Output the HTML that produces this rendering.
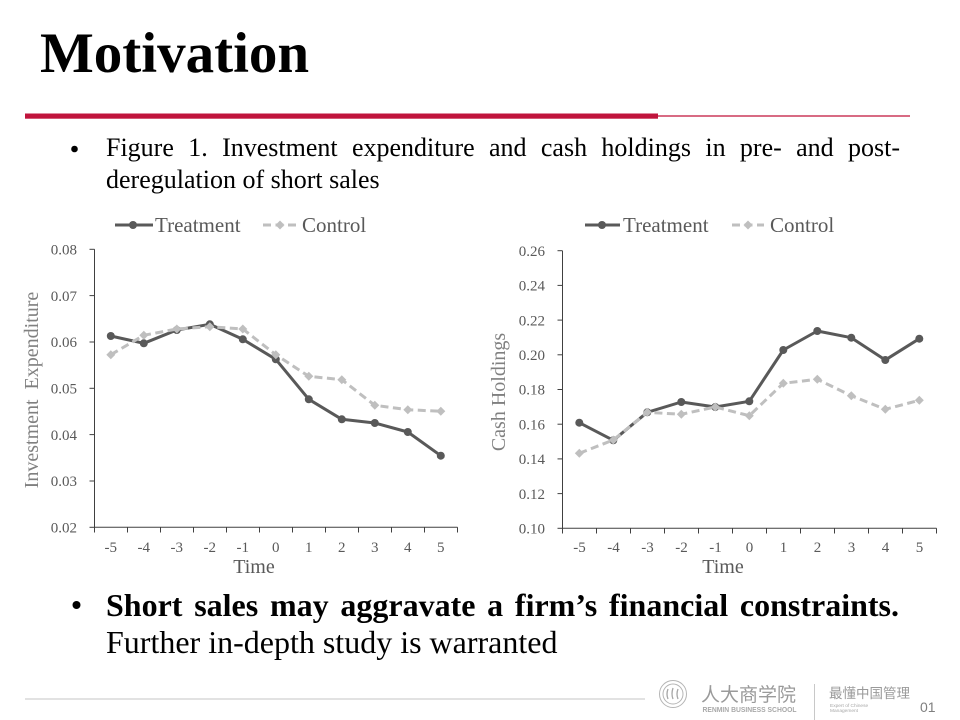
<!DOCTYPE html>
<html>
<head>
<meta charset="utf-8">
<style>
  html,body{margin:0;padding:0;background:#fff;}
  #page{position:relative;width:960px;height:720px;overflow:hidden;background:#fff;font-family:"Liberation Serif","Noto Serif CJK SC",serif;color:#000;}
  .t{position:absolute;white-space:nowrap;}
  .just{position:absolute;white-space:normal;text-align:justify;text-align-last:justify;}
  svg{position:absolute;left:0;top:0;}
</style>
</head>
<body>
<div id="page">
  <svg width="960" height="720" viewBox="0 0 960 720" xmlns="http://www.w3.org/2000/svg">
    <!-- header rule -->
    <rect x="25" y="113.5" width="633" height="5.2" fill="#c0143c"/>
    <line x1="658" y1="116" x2="910" y2="116" stroke="#cc3a5a" stroke-width="1.5"/>
    <!-- bullets -->
    <circle cx="74.5" cy="149" r="3.3" fill="#000"/>
    <circle cx="76.5" cy="605" r="4" fill="#000"/>

    <!-- ============ LEFT CHART ============ -->
    <g font-family="Liberation Serif, serif">
      <line x1="94.5" y1="249.3" x2="94.5" y2="527.3" stroke="#404040" stroke-width="1"/>
      <line x1="94.5" y1="527.3" x2="457.5" y2="527.3" stroke="#404040" stroke-width="1"/>
      <g stroke="#404040" stroke-width="1">
        <line x1="89.5" y1="249.3" x2="94.5" y2="249.3"/>
        <line x1="89.5" y1="295.6" x2="94.5" y2="295.6"/>
        <line x1="89.5" y1="342" x2="94.5" y2="342"/>
        <line x1="89.5" y1="388.3" x2="94.5" y2="388.3"/>
        <line x1="89.5" y1="434.6" x2="94.5" y2="434.6"/>
        <line x1="89.5" y1="481" x2="94.5" y2="481"/>
        <line x1="89.5" y1="527.3" x2="94.5" y2="527.3"/>
        <line x1="94.5" y1="527.3" x2="94.5" y2="532.5"/>
        <line x1="127.5" y1="527.3" x2="127.5" y2="532.5"/>
        <line x1="160.5" y1="527.3" x2="160.5" y2="532.5"/>
        <line x1="193.5" y1="527.3" x2="193.5" y2="532.5"/>
        <line x1="226.5" y1="527.3" x2="226.5" y2="532.5"/>
        <line x1="259.5" y1="527.3" x2="259.5" y2="532.5"/>
        <line x1="292.5" y1="527.3" x2="292.5" y2="532.5"/>
        <line x1="325.5" y1="527.3" x2="325.5" y2="532.5"/>
        <line x1="358.5" y1="527.3" x2="358.5" y2="532.5"/>
        <line x1="391.5" y1="527.3" x2="391.5" y2="532.5"/>
        <line x1="424.5" y1="527.3" x2="424.5" y2="532.5"/>
        <line x1="457.5" y1="527.3" x2="457.5" y2="532.5"/>
      </g>
      <g font-size="15" fill="#595959" text-anchor="end">
        <text x="77" y="254.5">0.08</text>
        <text x="77" y="300.8">0.07</text>
        <text x="77" y="347.2">0.06</text>
        <text x="77" y="393.5">0.05</text>
        <text x="77" y="439.8">0.04</text>
        <text x="77" y="486.2">0.03</text>
        <text x="77" y="532.5">0.02</text>
      </g>
      <g font-size="15" fill="#595959" text-anchor="middle">
        <text x="110.8" y="552">-5</text>
        <text x="143.8" y="552">-4</text>
        <text x="176.8" y="552">-3</text>
        <text x="209.8" y="552">-2</text>
        <text x="242.8" y="552">-1</text>
        <text x="275.8" y="552">0</text>
        <text x="308.8" y="552">1</text>
        <text x="341.8" y="552">2</text>
        <text x="374.8" y="552">3</text>
        <text x="407.8" y="552">4</text>
        <text x="440.8" y="552">5</text>
      </g>
      <text x="254" y="573" font-size="20" fill="#595959" text-anchor="middle">Time</text>
      <text transform="translate(38,390) rotate(-90)" font-size="20" fill="#808080" text-anchor="middle" xml:space="preserve">Investment  Expenditure</text>
      <!-- legend -->
      <line x1="115" y1="225" x2="153" y2="225" stroke="#595959" stroke-width="3"/>
      <circle cx="133" cy="225" r="4" fill="#595959"/>
      <text x="155" y="232" font-size="21" fill="#595959">Treatment</text>
      <line x1="263" y1="225" x2="296" y2="225" stroke="#bfbfbf" stroke-width="3" stroke-dasharray="8 4.5"/>
      <path d="M280 220.5 L284.5 225 L280 229.5 L275.5 225 Z" fill="#bfbfbf"/>
      <text x="302" y="232" font-size="21" fill="#595959">Control</text>
      <polyline fill="none" stroke="#595959" stroke-width="3" stroke-linejoin="round"
        points="110.8,336 143.8,343.3 176.8,330 209.8,324.3 242.8,339.3 275.8,359.3 308.8,399.3 341.8,419.3 374.8,423 407.8,432 440.8,455.7"/>
      <g fill="#595959">
        <circle cx="110.8" cy="336" r="4"/>
        <circle cx="143.8" cy="343.3" r="4"/>
        <circle cx="176.8" cy="330" r="4"/>
        <circle cx="209.8" cy="324.3" r="4"/>
        <circle cx="242.8" cy="339.3" r="4"/>
        <circle cx="275.8" cy="359.3" r="4"/>
        <circle cx="308.8" cy="399.3" r="4"/>
        <circle cx="341.8" cy="419.3" r="4"/>
        <circle cx="374.8" cy="423" r="4"/>
        <circle cx="407.8" cy="432" r="4"/>
        <circle cx="440.8" cy="455.7" r="4"/>
      </g>
      <polyline fill="none" stroke="#bfbfbf" stroke-width="3" stroke-dasharray="8 4.5" stroke-linejoin="round"
        points="110.8,354.7 143.8,335.3 176.8,329 209.8,326.7 242.8,329 275.8,354.7 308.8,376.3 341.8,379.7 374.8,405.3 407.8,409.7 440.8,411.3"/>
      <g fill="#bfbfbf">
        <path d="M110.8 350.2 l4.5 4.5 l-4.5 4.5 l-4.5 -4.5 Z"/>
        <path d="M143.8 330.8 l4.5 4.5 l-4.5 4.5 l-4.5 -4.5 Z"/>
        <path d="M176.8 324.5 l4.5 4.5 l-4.5 4.5 l-4.5 -4.5 Z"/>
        <path d="M209.8 322.2 l4.5 4.5 l-4.5 4.5 l-4.5 -4.5 Z"/>
        <path d="M242.8 324.5 l4.5 4.5 l-4.5 4.5 l-4.5 -4.5 Z"/>
        <path d="M275.8 350.2 l4.5 4.5 l-4.5 4.5 l-4.5 -4.5 Z"/>
        <path d="M308.8 371.8 l4.5 4.5 l-4.5 4.5 l-4.5 -4.5 Z"/>
        <path d="M341.8 375.2 l4.5 4.5 l-4.5 4.5 l-4.5 -4.5 Z"/>
        <path d="M374.8 400.8 l4.5 4.5 l-4.5 4.5 l-4.5 -4.5 Z"/>
        <path d="M407.8 405.2 l4.5 4.5 l-4.5 4.5 l-4.5 -4.5 Z"/>
        <path d="M440.8 406.8 l4.5 4.5 l-4.5 4.5 l-4.5 -4.5 Z"/>
      </g>
    </g>

    <!-- ============ RIGHT CHART ============ -->
    <g font-family="Liberation Serif, serif">
      <line x1="562.5" y1="250.7" x2="562.5" y2="528.3" stroke="#404040" stroke-width="1"/>
      <line x1="562.5" y1="528.3" x2="936.5" y2="528.3" stroke="#404040" stroke-width="1"/>
      <g stroke="#404040" stroke-width="1">
        <line x1="557.5" y1="250.7" x2="562.5" y2="250.7"/>
        <line x1="557.5" y1="285.4" x2="562.5" y2="285.4"/>
        <line x1="557.5" y1="320.1" x2="562.5" y2="320.1"/>
        <line x1="557.5" y1="354.8" x2="562.5" y2="354.8"/>
        <line x1="557.5" y1="389.5" x2="562.5" y2="389.5"/>
        <line x1="557.5" y1="424.2" x2="562.5" y2="424.2"/>
        <line x1="557.5" y1="458.9" x2="562.5" y2="458.9"/>
        <line x1="557.5" y1="493.6" x2="562.5" y2="493.6"/>
        <line x1="557.5" y1="528.3" x2="562.5" y2="528.3"/>
        <line x1="562.5" y1="528.3" x2="562.5" y2="533.5"/>
        <line x1="596.5" y1="528.3" x2="596.5" y2="533.5"/>
        <line x1="630.5" y1="528.3" x2="630.5" y2="533.5"/>
        <line x1="664.5" y1="528.3" x2="664.5" y2="533.5"/>
        <line x1="698.5" y1="528.3" x2="698.5" y2="533.5"/>
        <line x1="732.5" y1="528.3" x2="732.5" y2="533.5"/>
        <line x1="766.5" y1="528.3" x2="766.5" y2="533.5"/>
        <line x1="800.5" y1="528.3" x2="800.5" y2="533.5"/>
        <line x1="834.5" y1="528.3" x2="834.5" y2="533.5"/>
        <line x1="868.5" y1="528.3" x2="868.5" y2="533.5"/>
        <line x1="902.5" y1="528.3" x2="902.5" y2="533.5"/>
        <line x1="936.5" y1="528.3" x2="936.5" y2="533.5"/>
      </g>
      <g font-size="15" fill="#595959" text-anchor="end">
        <text x="545" y="255.9">0.26</text>
        <text x="545" y="290.6">0.24</text>
        <text x="545" y="325.3">0.22</text>
        <text x="545" y="360">0.20</text>
        <text x="545" y="394.7">0.18</text>
        <text x="545" y="429.4">0.16</text>
        <text x="545" y="464.1">0.14</text>
        <text x="545" y="498.8">0.12</text>
        <text x="545" y="533.5">0.10</text>
      </g>
      <g font-size="15" fill="#595959" text-anchor="middle">
        <text x="579.5" y="552">-5</text>
        <text x="613.5" y="552">-4</text>
        <text x="647.5" y="552">-3</text>
        <text x="681.5" y="552">-2</text>
        <text x="715.5" y="552">-1</text>
        <text x="749.5" y="552">0</text>
        <text x="783.5" y="552">1</text>
        <text x="817.5" y="552">2</text>
        <text x="851.5" y="552">3</text>
        <text x="885.5" y="552">4</text>
        <text x="919.5" y="552">5</text>
      </g>
      <text x="723" y="573" font-size="20" fill="#595959" text-anchor="middle">Time</text>
      <text transform="translate(505,392) rotate(-90)" font-size="20" fill="#808080" text-anchor="middle">Cash Holdings</text>
      <line x1="585" y1="225" x2="620" y2="225" stroke="#595959" stroke-width="3"/>
      <circle cx="602" cy="225" r="4" fill="#595959"/>
      <text x="623" y="232" font-size="21" fill="#595959">Treatment</text>
      <line x1="732" y1="225" x2="764" y2="225" stroke="#bfbfbf" stroke-width="3" stroke-dasharray="8 4.5"/>
      <path d="M748 220.5 L752.5 225 L748 229.5 L743.5 225 Z" fill="#bfbfbf"/>
      <text x="770" y="232" font-size="21" fill="#595959">Control</text>
      <polyline fill="none" stroke="#595959" stroke-width="3" stroke-linejoin="round"
        points="579.3,422.7 613.3,440.3 647.3,412.3 681.3,402 715.3,407 749.3,401.3 783.3,350 817.3,331 851.3,337.7 885.3,360 919.3,338.7"/>
      <g fill="#595959">
        <circle cx="579.3" cy="422.7" r="4"/>
        <circle cx="613.3" cy="440.3" r="4"/>
        <circle cx="647.3" cy="412.3" r="4"/>
        <circle cx="681.3" cy="402" r="4"/>
        <circle cx="715.3" cy="407" r="4"/>
        <circle cx="749.3" cy="401.3" r="4"/>
        <circle cx="783.3" cy="350" r="4"/>
        <circle cx="817.3" cy="331" r="4"/>
        <circle cx="851.3" cy="337.7" r="4"/>
        <circle cx="885.3" cy="360" r="4"/>
        <circle cx="919.3" cy="338.7" r="4"/>
      </g>
      <polyline fill="none" stroke="#bfbfbf" stroke-width="3" stroke-dasharray="8 4.5" stroke-linejoin="round"
        points="579.3,453.3 613.3,440 647.3,412.3 681.3,414.3 715.3,407 749.3,415.7 783.3,383.3 817.3,379.3 851.3,395.7 885.3,409.3 919.3,400.3"/>
      <g fill="#bfbfbf">
        <path d="M579.3 448.8 l4.5 4.5 l-4.5 4.5 l-4.5 -4.5 Z"/>
        <path d="M613.3 435.5 l4.5 4.5 l-4.5 4.5 l-4.5 -4.5 Z"/>
        <path d="M647.3 407.8 l4.5 4.5 l-4.5 4.5 l-4.5 -4.5 Z"/>
        <path d="M681.3 409.8 l4.5 4.5 l-4.5 4.5 l-4.5 -4.5 Z"/>
        <path d="M715.3 402.5 l4.5 4.5 l-4.5 4.5 l-4.5 -4.5 Z"/>
        <path d="M749.3 411.2 l4.5 4.5 l-4.5 4.5 l-4.5 -4.5 Z"/>
        <path d="M783.3 378.8 l4.5 4.5 l-4.5 4.5 l-4.5 -4.5 Z"/>
        <path d="M817.3 374.8 l4.5 4.5 l-4.5 4.5 l-4.5 -4.5 Z"/>
        <path d="M851.3 391.2 l4.5 4.5 l-4.5 4.5 l-4.5 -4.5 Z"/>
        <path d="M885.3 404.8 l4.5 4.5 l-4.5 4.5 l-4.5 -4.5 Z"/>
        <path d="M919.3 395.8 l4.5 4.5 l-4.5 4.5 l-4.5 -4.5 Z"/>
      </g>
    </g>

    <!-- ============ FOOTER ============ -->
    <line x1="25" y1="699" x2="645" y2="699" stroke="#d9d9d9" stroke-width="1.5"/>
    <circle cx="673" cy="694" r="13.5" fill="none" stroke="#b5b5b5" stroke-width="1"/>
    <circle cx="673" cy="694" r="10" fill="none" stroke="#b5b5b5" stroke-width="1"/>
    <path d="M668 689 q-2 5 0 10 M673 688 q-2 6 0 11 M678 689 q-2 5 0 10" fill="none" stroke="#a6a6a6" stroke-width="1.3"/>
    <text x="701" y="701" font-family="Noto Sans CJK SC, WenQuanYi Zen Hei, sans-serif" font-size="19" fill="#9a9a9a" textLength="95" lengthAdjust="spacingAndGlyphs">人大商学院</text>
    <text x="702.5" y="712" font-family="Liberation Sans, sans-serif" font-size="7.2" font-weight="bold" fill="#a8a8a8" textLength="94" lengthAdjust="spacingAndGlyphs">RENMIN BUSINESS SCHOOL</text>
    <line x1="814.5" y1="684" x2="814.5" y2="720" stroke="#c8c8c8" stroke-width="1"/>
    <text x="829" y="698" font-family="Noto Sans CJK SC, WenQuanYi Zen Hei, sans-serif" font-size="13.5" fill="#9a9a9a" textLength="81" lengthAdjust="spacingAndGlyphs">最懂中国管理</text>
    <text x="830" y="707" font-family="Liberation Sans, sans-serif" font-size="4.8" fill="#a8a8a8">Expert of Chinese</text>
    <text x="830" y="712" font-family="Liberation Sans, sans-serif" font-size="4.8" fill="#a8a8a8">Management</text>
    <text x="920" y="712" font-family="Liberation Sans, sans-serif" font-size="14" fill="#7f7f7f">01</text>
  </svg>

  <!-- Title -->
  <div class="t" style="left:40px;top:25px;font-size:57px;line-height:57px;font-weight:bold;">Motivation</div>

  <!-- Caption bullet -->
  <div class="just" style="left:106px;top:135px;width:794px;font-size:26px;line-height:26px;height:26px;overflow:visible;">Figure 1. Investment expenditure and cash holdings in pre- and post-</div>
  <div class="t" style="left:106px;top:167px;font-size:26px;line-height:26px;">deregulation of short sales</div>

  <!-- Bottom bullet -->
  <div class="just" style="left:106px;top:589px;width:793px;font-size:32px;line-height:32px;font-weight:bold;">Short sales may aggravate a firm’s financial constraints.</div>
  <div class="t" style="left:106px;top:626px;font-size:32px;line-height:32px;">Further in-depth study is warranted</div>
</div>
</body>
</html>
